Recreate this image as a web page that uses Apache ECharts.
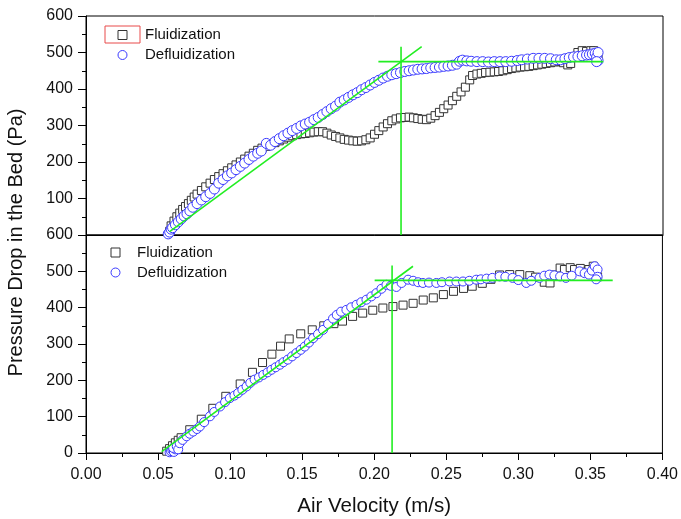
<!DOCTYPE html>
<html>
<head>
<meta charset="utf-8">
<script src="https://cdn.jsdelivr.net/npm/echarts@6/dist/echarts.min.js"></script>
<style>html,body{margin:0;padding:0;background:#fff}#c{width:681px;height:519px}</style>
</head>
<body>
<div id="c"></div>
<script>
// ---------- data ----------
var xTicks = [0, 0.05, 0.10, 0.15, 0.20, 0.25, 0.30, 0.35, 0.40];
var yTicks = [0, 100, 200, 300, 400, 500, 600];
var legendNames = ['Fluidization', 'Defluidization'];

// top panel
var topFluid = [[0.058,10],[0.059,25],[0.061,38],[0.063,50],[0.065,60],[0.067,70],[0.069,78],[0.071,86],[0.073,95],[0.075,104],[0.077,112],[0.080,122],[0.083,132],[0.086,142],[0.089,152],[0.092,160],[0.095,168],[0.098,176],[0.101,184],[0.104,192],[0.107,200],[0.110,208],[0.113,216],[0.116,224],[0.119,232],[0.122,238],[0.125,243],[0.128,248],[0.131,253],[0.134,258],[0.137,263],[0.140,268],[0.143,272],[0.146,275],[0.149,277],[0.152,278],[0.155,280],[0.158,282],[0.161,283],[0.164,283],[0.167,279],[0.170,274],[0.173,270],[0.176,266],[0.179,262],[0.182,260],[0.185,258],[0.188,257],[0.191,258],[0.194,261],[0.197,266],[0.200,276],[0.203,286],[0.206,296],[0.209,305],[0.212,313],[0.215,318],[0.218,321],[0.221,322],[0.224,323],[0.227,321],[0.230,319],[0.233,317],[0.236,316],[0.239,320],[0.242,327],[0.245,336],[0.248,346],[0.251,356],[0.254,368],[0.257,380],[0.260,392],[0.263,405],[0.266,425],[0.268,437],[0.271,441],[0.274,443],[0.277,445],[0.280,446],[0.283,447],[0.286,448],[0.289,450],[0.292,453],[0.295,456],[0.298,458],[0.301,460],[0.304,461],[0.307,462],[0.310,464],[0.313,466],[0.316,468],[0.319,470],[0.322,472],[0.325,474],[0.328,476],[0.331,472],[0.334,466],[0.336,470],[0.338,488],[0.341,500],[0.344,505],[0.347,503],[0.350,505],[0.352,505],[0.354,495],[0.355,485]];
var topDefluid = [[0.057,3],[0.058,8],[0.059,16],[0.060,20],[0.062,28],[0.064,36],[0.066,44],[0.068,52],[0.070,58],[0.072,66],[0.074,76],[0.077,86],[0.080,96],[0.083,105],[0.086,114],[0.089,126],[0.092,142],[0.095,152],[0.098,162],[0.101,170],[0.104,179],[0.107,188],[0.110,197],[0.113,207],[0.116,216],[0.119,224],[0.1215,230],[0.125,251],[0.128,246],[0.131,256],[0.134,264],[0.137,272],[0.140,279],[0.143,286],[0.146,292],[0.149,299],[0.152,304],[0.155,309],[0.158,316],[0.161,322],[0.164,330],[0.167,338],[0.170,346],[0.173,353],[0.176,364],[0.179,370],[0.182,377],[0.185,384],[0.188,390],[0.191,398],[0.194,404],[0.197,411],[0.200,418],[0.203,424],[0.206,430],[0.209,435],[0.212,439],[0.215,442],[0.218,445],[0.221,448],[0.224,450],[0.227,452],[0.230,454],[0.233,455],[0.236,456],[0.239,458],[0.242,459],[0.245,460],[0.248,462],[0.251,463],[0.254,465],[0.257,468],[0.259,476],[0.261,479],[0.264,477],[0.267,476],[0.271,475],[0.275,475],[0.279,474],[0.283,475],[0.287,475],[0.291,475],[0.295,476],[0.299,478],[0.302,480],[0.306,482],[0.310,484],[0.314,484],[0.318,484],[0.322,483],[0.326,480],[0.329,480],[0.332,483],[0.335,486],[0.338,488],[0.341,489],[0.344,491],[0.347,493],[0.349,494],[0.351,496],[0.353,498],[0.354,488],[0.355,478],[0.355,500],[0.354,475]];
var topSlope = [[0.058,9],[0.2327,516]];
var topPlateau = [[0.2027,475],[0.3586,475]];
var topVertical = [[0.2184,0],[0.2184,516]];

// bottom panel
var botFluid = [[0.056,5],[0.058,12],[0.060,20],[0.062,28],[0.064,35],[0.066,42],[0.072,64],[0.080,93],[0.088,123],[0.097,156],[0.107,190],[0.1155,222],[0.1225,249],[0.129,272],[0.135,294],[0.141,314],[0.149,328],[0.157,339],[0.165,350],[0.172,356],[0.178,363],[0.185,376],[0.192,385],[0.199,393],[0.206,399],[0.213,403],[0.220,407],[0.227,412],[0.234,421],[0.241,427],[0.248,436],[0.255,445],[0.262,453],[0.268,459],[0.275,467],[0.281,478],[0.287,490],[0.294,491],[0.301,491],[0.308,488],[0.312,484],[0.318,470],[0.322,468],[0.326,490],[0.329,509],[0.332,505],[0.336,510],[0.339,505],[0.343,508],[0.346,498],[0.349,505],[0.352,514],[0.354,500],[0.355,485]];
var botDefluid = [[0.058,2],[0.059,5],[0.060,8],[0.061,3],[0.062,10],[0.0605,14],[0.063,18],[0.064,10],[0.065,27],[0.067,36],[0.0698,46],[0.072,53],[0.0744,59],[0.077,66],[0.079,73],[0.082,85],[0.086,101],[0.089,113],[0.093,128],[0.0965,140],[0.0998,151],[0.103,158],[0.1056,165],[0.1085,174],[0.1114,183],[0.114,193],[0.117,202],[0.120,208],[0.123,215],[0.126,222],[0.1287,229],[0.1316,236],[0.1345,243],[0.137,250],[0.140,257],[0.143,266],[0.146,275],[0.149,284],[0.1518,293],[0.1547,304],[0.1576,316],[0.161,327],[0.1645,339],[0.168,355],[0.1714,370],[0.174,380],[0.177,389],[0.1807,394],[0.184,401],[0.1877,408],[0.191,415],[0.1946,422],[0.198,431],[0.2015,440],[0.205,452],[0.2085,463],[0.2115,460],[0.2154,457],[0.219,468],[0.2235,477],[0.227,474],[0.2305,470],[0.2338,468],[0.238,469],[0.2431,468],[0.247,470],[0.2523,472],[0.257,472],[0.2616,472],[0.266,474],[0.2708,477],[0.274,478],[0.278,480],[0.282,482],[0.287,486],[0.291,485],[0.296,482],[0.300,476],[0.3055,468],[0.309,474],[0.3147,482],[0.318,488],[0.3216,491],[0.325,489],[0.329,486],[0.333,482],[0.337,488],[0.3425,500],[0.346,495],[0.349,491],[0.351,502],[0.353,514],[0.355,505],[0.355,485],[0.354,478]];
var botSlope = [[0.0525,4],[0.2269,514]];
var botPlateau = [[0.2003,475],[0.3655,475]];
var botVertical = [[0.2124,0],[0.2124,516]];

// ---------- chart ----------
var FONT = '"Liberation Sans", Arial, sans-serif';
var chart = echarts.init(document.getElementById('c'), null, {renderer: 'canvas'});

function xAx(grid, showLabels) {
  return {
    type: 'value', gridIndex: grid, min: xTicks[0], max: xTicks[xTicks.length - 1],
    interval: xTicks[1] - xTicks[0],
    axisLine: {show: true, onZero: false, lineStyle: {color: '#000', width: 1}},
    axisTick: {show: showLabels, inside: false, length: 7, lineStyle: {color: '#000'}},
    minorTick: {show: showLabels, splitNumber: 2, length: 4, lineStyle: {color: '#000'}},
    splitLine: {show: false}, minorSplitLine: {show: false},
    axisLabel: {show: showLabels, margin: 14, fontSize: 16, color: '#111', fontFamily: FONT,
      formatter: function (v) { return v.toFixed(2); }},
    name: showLabels ? 'Air Velocity (m/s)' : '',
    nameLocation: 'middle', nameGap: 43,
    nameTextStyle: {fontSize: 20.5, color: '#111', fontFamily: FONT}
  };
}
function yAx(grid, hideMin) {
  return {
    type: 'value', gridIndex: grid, min: yTicks[0], max: yTicks[yTicks.length - 1],
    interval: yTicks[1] - yTicks[0],
    axisLine: {show: true, onZero: false, lineStyle: {color: '#000', width: 1}},
    axisTick: {show: true, inside: false, length: 8, lineStyle: {color: '#000'}},
    minorTick: {show: true, splitNumber: 2, length: 4, lineStyle: {color: '#000'}},
    splitLine: {show: false}, minorSplitLine: {show: false},
    axisLabel: {show: true, margin: 13, fontSize: 16, color: '#111', fontFamily: FONT,
      showMinLabel: !hideMin}
  };
}
function sq(name, data, xi, size) {
  return {name: name, type: 'scatter', xAxisIndex: xi, yAxisIndex: xi, data: data,
    symbol: 'rect', symbolSize: size,
    itemStyle: {color: '#fff', borderColor: '#333', borderWidth: 1, opacity: 1},
    emphasis: {disabled: true}, z: 2};
}
function ci(name, data, xi, size) {
  return {name: name, type: 'scatter', xAxisIndex: xi, yAxisIndex: xi, data: data,
    symbol: 'circle', symbolSize: size,
    itemStyle: {color: '#fff', borderColor: '#3a3aff', borderWidth: 1, opacity: 1},
    emphasis: {disabled: true}, z: 3};
}
function gl(name, data, xi) {
  return {name: name, type: 'line', xAxisIndex: xi, yAxisIndex: xi, data: data,
    showSymbol: false, symbol: 'none', lineStyle: {color: '#22ee22', width: 1.6},
    emphasis: {disabled: true}, z: 4};
}

var legendCommon = {
  orient: 'vertical', itemWidth: 9, itemHeight: 9, itemGap: 1, selectedMode: false, padding: 0,
  data: legendNames,
  itemStyle: {borderWidth: 1},
  textStyle: {fontSize: 15, color: '#111', fontFamily: FONT, lineHeight: 19}
};

chart.setOption({
  animation: false,
  backgroundColor: '#fff',
  grid: [
    {left: 86, top: 16, width: 577, height: 219, show: true, borderColor: '#000', borderWidth: 1, backgroundColor: 'transparent', containLabel: false},
    {left: 86, top: 235, width: 577, height: 218, show: true, borderColor: '#000', borderWidth: 1, backgroundColor: 'transparent', containLabel: false}
  ],
  xAxis: [xAx(0, false), xAx(1, true)],
  yAxis: [yAx(0, true), yAx(1, false)],
  legend: [
    Object.assign({}, legendCommon, {left: 117.5, top: 25.5,
      textStyle: Object.assign({}, legendCommon.textStyle, {padding: [0, 0, 0, 13]})}),
    Object.assign({}, legendCommon, {left: 110.5, top: 243,
      textStyle: Object.assign({}, legendCommon.textStyle, {padding: [0, 0, 0, 12]})})
  ],
  graphic: [
    {type: 'rect', shape: {x: 105, y: 26, width: 35, height: 17}, style: {fill: 'none', stroke: '#e84a4a', lineWidth: 1}, z: 100},
    {type: 'text', x: 16.5, y: 242.5, rotation: Math.PI / 2,
      style: {text: 'Pressure Drop in the Bed (Pa)', fontSize: 20, fontFamily: FONT, fill: '#111', align: 'center', verticalAlign: 'middle'}}
  ],
  series: [
    sq('Fluidization', topFluid, 0, 8),
    ci('Defluidization', topDefluid, 0, 10),
    gl('fit-top-1', topSlope, 0),
    gl('fit-top-2', topPlateau, 0),
    gl('fit-top-3', topVertical, 0),
    sq('Fluidization', botFluid, 1, 8),
    ci('Defluidization', botDefluid, 1, 9),
    gl('fit-bot-1', botSlope, 1),
    gl('fit-bot-2', botPlateau, 1),
    gl('fit-bot-3', botVertical, 1)
  ]
});
</script>
</body>
</html>
